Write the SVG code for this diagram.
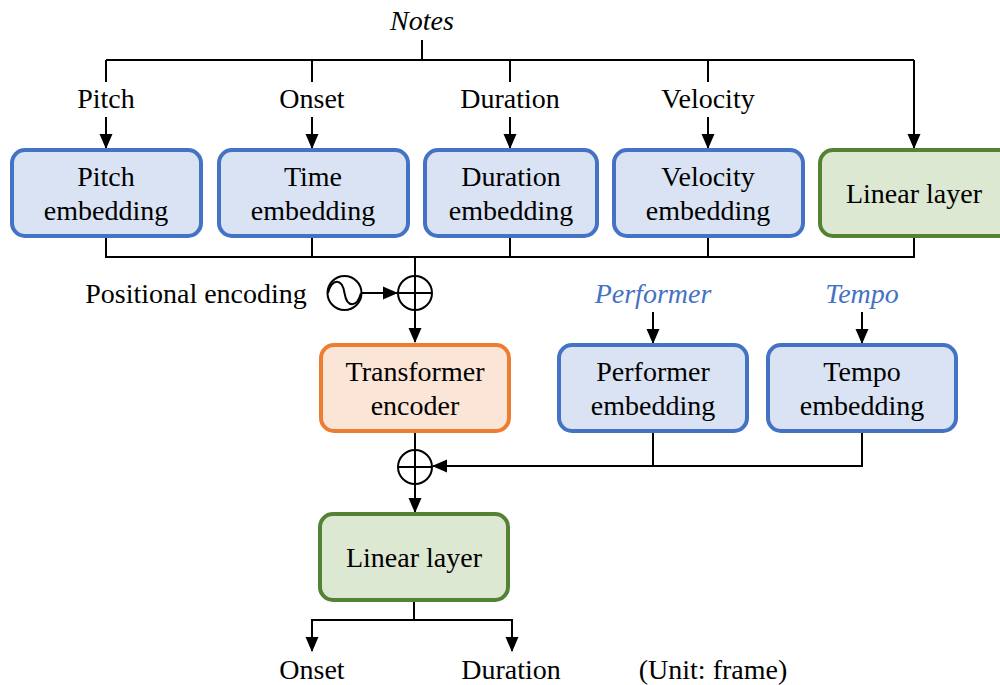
<svg xmlns="http://www.w3.org/2000/svg" width="1000" height="685" viewBox="0 0 1000 685">
<style>
text{font-family:"Liberation Serif","Times New Roman",serif;font-size:28px;fill:#000;text-anchor:middle}
.it{font-style:italic}
.blue{fill:#4472C4}
.bx{stroke-width:4}
.emb{fill:#DAE3F3;stroke:#4472C4}
.lin{fill:#DDE8D3;stroke:#548235}
.trf{fill:#FBE5D6;stroke:#ED7D31}
.ln{fill:none;stroke:#000;stroke-width:2}
.circ{fill:#fff;stroke:#000;stroke-width:2}
</style>
<defs>
<marker id="ah" markerUnits="userSpaceOnUse" markerWidth="15" markerHeight="15" viewBox="0 0 15 15" refX="14" refY="7.5" orient="auto">
<path d="M0,1 L15,7.5 L0,14 Z" fill="#000"/>
</marker>
</defs>
<g id="labels">
<text x="422" y="30" class="it">Notes</text>
<text x="106" y="108">Pitch</text>
<text x="312" y="108">Onset</text>
<text x="510" y="108">Duration</text>
<text x="708" y="108">Velocity</text>
<text x="196" y="303">Positional encoding</text>
<text x="653" y="303" class="it blue">Performer</text>
<text x="862" y="303" class="it blue">Tempo</text>
<text x="312" y="679">Onset</text>
<text x="511" y="679">Duration</text>
<text x="713" y="679">(Unit: frame)</text>
</g>
<g id="connectors">
<path class="ln" d="M422,40 V60 M106,60 H914 M106,60 V82 M312,60 V82 M510,60 V82 M708,60 V82"/>
<path class="ln" d="M106,117 V148" marker-end="url(#ah)"/>
<path class="ln" d="M312,117 V148" marker-end="url(#ah)"/>
<path class="ln" d="M510,117 V148" marker-end="url(#ah)"/>
<path class="ln" d="M708,117 V148" marker-end="url(#ah)"/>
<path class="ln" d="M914,60 V148" marker-end="url(#ah)"/>
<path class="ln" d="M106,236 V257 H914 V236 M312,236 V257 M510,236 V257 M708,236 V257 M415,257 V276"/>
<path class="ln" d="M362,293 H397" marker-end="url(#ah)"/>
<path class="ln" d="M415,310 V342" marker-end="url(#ah)"/>
<path class="ln" d="M653,312 V343" marker-end="url(#ah)"/>
<path class="ln" d="M862,312 V343" marker-end="url(#ah)"/>
<path class="ln" d="M415,432 V450"/>
<path class="ln" d="M653,432 V466 M862,432 V466 H433" marker-end="url(#ah)"/>
<path class="ln" d="M415,484 V512" marker-end="url(#ah)"/>
<path class="ln" d="M414,601 V620 M312,620 H512"/>
<path class="ln" d="M312,619 V651" marker-end="url(#ah)"/>
<path class="ln" d="M512,619 V651" marker-end="url(#ah)"/>
</g>
<g id="pitch"><rect class="bx emb" x="12" y="150" width="189" height="86" rx="13"/><text x="106" y="186">Pitch</text><text x="106" y="220">embedding</text></g>
<g id="time"><rect class="bx emb" x="219" y="150" width="189" height="86" rx="13"/><text x="313" y="186">Time</text><text x="313" y="220">embedding</text></g>
<g id="duration"><rect class="bx emb" x="425" y="150" width="172" height="86" rx="13"/><text x="511" y="186">Duration</text><text x="511" y="220">embedding</text></g>
<g id="velocity"><rect class="bx emb" x="614" y="150" width="189" height="86" rx="13"/><text x="708" y="186">Velocity</text><text x="708" y="220">embedding</text></g>
<g id="linear1"><rect class="bx lin" x="820" y="150" width="194" height="86" rx="13"/><text x="914" y="203">Linear layer</text></g>
<g id="posenc"><circle class="circ" cx="344.5" cy="293" r="17"/><path class="ln" d="M328,293 C332,278 342,278 344.5,293 C347,308 357,308 361,293"/></g>
<g id="add1"><circle class="circ" cx="415" cy="293" r="17"/><path class="ln" d="M398,293 H432 M415,276 V310"/></g>
<g id="transformer"><rect class="bx trf" x="321" y="345" width="188" height="86" rx="13"/><text x="415" y="381">Transformer</text><text x="415" y="415">encoder</text></g>
<g id="performer"><rect class="bx emb" x="559" y="345" width="188" height="86" rx="13"/><text x="653" y="381">Performer</text><text x="653" y="415">embedding</text></g>
<g id="tempo"><rect class="bx emb" x="768" y="345" width="188" height="86" rx="13"/><text x="862" y="381">Tempo</text><text x="862" y="415">embedding</text></g>
<g id="add2"><circle class="circ" cx="415" cy="467" r="17"/><path class="ln" d="M398,467 H432 M415,450 V484"/></g>
<g id="linear2"><rect class="bx lin" x="320" y="514" width="188" height="86" rx="13"/><text x="414" y="567">Linear layer</text></g>
</svg>
